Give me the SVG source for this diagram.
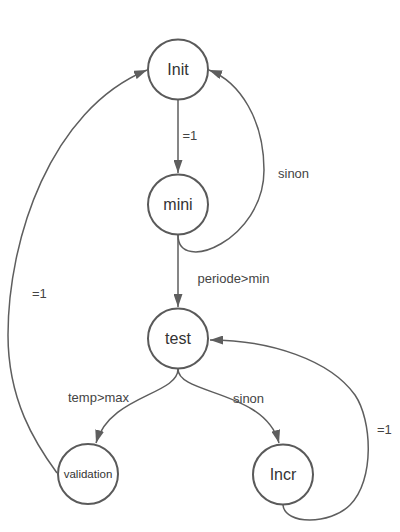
<svg xmlns="http://www.w3.org/2000/svg" width="400" height="532" viewBox="0 0 400 532">
<defs>
<style>
.node circle{fill:#ffffff;stroke:#5a5a5a;stroke-width:2}
.node text{font-family:"Liberation Sans",Arial,sans-serif;font-size:16px;fill:#333333;text-anchor:middle}
.edge{fill:none;stroke:#5e5e5e;stroke-width:1.5}
.lbl{font-family:"Liberation Sans",Arial,sans-serif;font-size:13px;fill:#444444}
</style>
<marker id="arr" viewBox="0 0 13 9" refX="13" refY="4.5" markerWidth="13" markerHeight="9" markerUnits="userSpaceOnUse" orient="auto">
<path d="M0,0 L13,4.5 L0,9 Z" fill="#5e5e5e"/>
</marker>
</defs>
<rect width="400" height="532" fill="#ffffff"/>
<g id="connectors">
<path class="edge" marker-end="url(#arr)" d="M178,100 L178,173"/>
<path class="edge" marker-end="url(#arr)" d="M178,235 C178,275 264,240 264,170 C264,120 240,82 209,70"/>
<path class="edge" marker-end="url(#arr)" d="M178,235 L178,307"/>
<path class="edge" marker-end="url(#arr)" d="M178,369 C178,395 110,395 96,443"/>
<path class="edge" marker-end="url(#arr)" d="M178,369 C178,395 265,390 279,443"/>
<path class="edge" marker-end="url(#arr)" d="M283,505 C285,525 330,525 350,505 C375,480 372,420 355,395 C330,360 270,340 210,340"/>
<path class="edge" marker-end="url(#arr)" d="M57,473 C35,443 8,400 8,335 C8,240 50,110 147,70"/>
<text class="lbl" x="182.5" y="140">=1</text>
<text class="lbl" x="278" y="178">sinon</text>
<text class="lbl" x="197.5" y="282.5">periode&gt;min</text>
<text class="lbl" x="32" y="298">=1</text>
<text class="lbl" x="68" y="402">temp&gt;max</text>
<text class="lbl" x="233" y="403">sinon</text>
<text class="lbl" x="377" y="434">=1</text>
</g>
<g id="node-init" class="node"><circle cx="178" cy="69.5" r="30"/><text x="178" y="75">Init</text></g>
<g id="node-mini" class="node"><circle cx="178" cy="204.5" r="30"/><text x="178" y="210">mini</text></g>
<g id="node-test" class="node"><circle cx="178" cy="338.5" r="30"/><text x="178" y="344">test</text></g>
<g id="node-validation" class="node"><circle cx="88" cy="474" r="30"/><text x="88" y="478" style="font-size:11.5px">validation</text></g>
<g id="node-incr" class="node"><circle cx="283" cy="474.5" r="30"/><text x="283" y="480">Incr</text></g>
</svg>
